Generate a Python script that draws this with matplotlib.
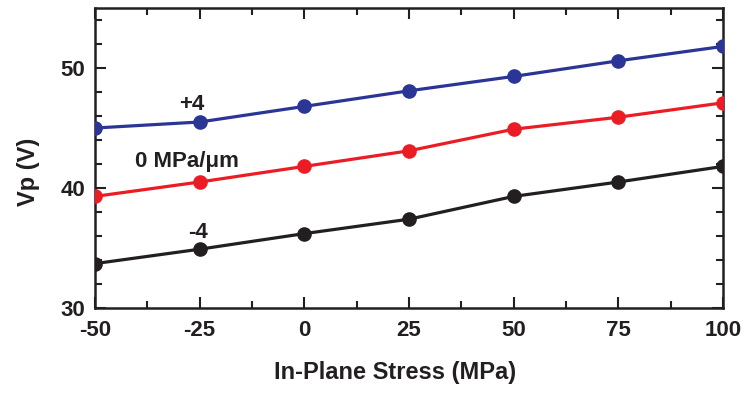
import matplotlib
matplotlib.use("Agg")
import matplotlib.pyplot as plt
from matplotlib.ticker import MultipleLocator, FuncFormatter

plt.rcParams['font.family'] = ['Liberation Sans', 'DejaVu Sans']
plt.rcParams['font.weight'] = 'bold'
plt.rcParams['axes.unicode_minus'] = False

stress = [-50, -25, 0, 25, 50, 75, 100]
vp_plus4 = [45.0, 45.5, 46.8, 48.1, 49.3, 50.6, 51.8]
vp_zero = [39.3, 40.5, 41.8, 43.1, 44.9, 45.9, 47.1]
vp_minus4 = [33.7, 34.9, 36.2, 37.4, 39.3, 40.5, 41.8]

INK = '#231f20'
series = [
    (vp_plus4, '#2b3595', '+4', (-26.8, 47.0)),
    (vp_zero, '#ec1c24', '0 MPa/\u03bcm', (-28.0, 42.2)),
    (vp_minus4, INK, '-4', (-25.5, 36.3)),
]

fig = plt.figure(figsize=(7.46, 3.93), dpi=100)
ax = fig.add_axes([0.1273, 0.2163, 0.8419, 0.7633])

for vals, color, label, (lx, ly) in series:
    ax.plot(stress, vals, color=color, lw=2.3, marker='o', ms=9.5,
            markerfacecolor=color, markeredgecolor=color, zorder=3)
    ax.text(lx, ly, label, fontsize=16, fontweight='bold', color=INK,
            ha='center', va='center')

ax.set_xlim(-50, 100)
ax.set_ylim(30, 55)
ax.xaxis.set_major_locator(MultipleLocator(25))
ax.xaxis.set_minor_locator(MultipleLocator(12.5))
ax.yaxis.set_major_locator(MultipleLocator(10))
ax.yaxis.set_minor_locator(MultipleLocator(2))
ax.xaxis.set_major_formatter(FuncFormatter(lambda v, p: f'{v:g}'))
ax.yaxis.set_major_formatter(FuncFormatter(lambda v, p: f'{v:g}'))

ax.tick_params(which='both', direction='in', top=True, right=True,
               width=1.5, color=INK)
ax.tick_params(which='major', length=8, labelsize=16)
ax.tick_params(which='minor', length=5)
ax.tick_params(axis='x', which='major', pad=9)
ax.tick_params(axis='y', which='major', pad=7)
for lbl in ax.get_xticklabels() + ax.get_yticklabels():
    lbl.set_fontweight('bold')
    lbl.set_color(INK)

for sp in ax.spines.values():
    sp.set_linewidth(1.8)
    sp.set_color(INK)

ax.set_xlabel('In-Plane Stress (MPa)', fontsize=17, fontweight='bold',
              color=INK)
ax.set_ylabel('Vp (V)', fontsize=17, fontweight='bold', color=INK)
ax.xaxis.set_label_coords(0.478, -0.178)
ax.yaxis.set_label_coords(-0.088, 0.453)

fig.savefig('out.png', dpi=100)
